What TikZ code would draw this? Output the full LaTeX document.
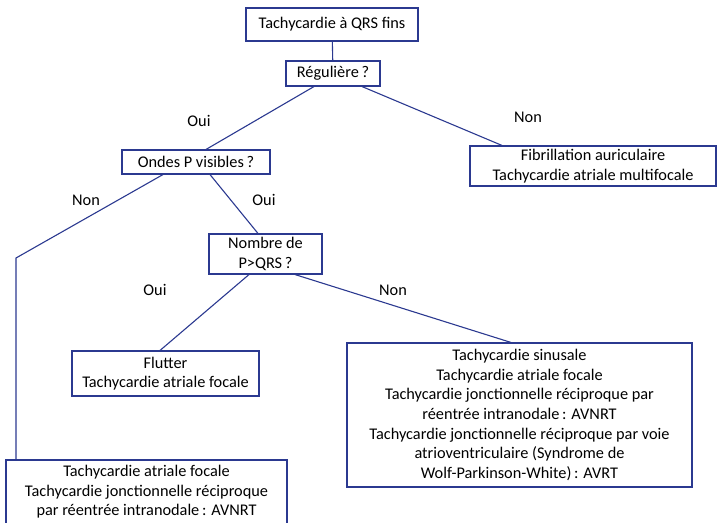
\documentclass[tikz,border=0pt]{standalone}
\usepackage{fontspec}
\setmainfont{Carlito}
\definecolor{boxblue}{HTML}{2B3990}
\begin{document}
\begin{tikzpicture}[x=1pt,y=-1pt,
    box/.style={draw=boxblue,line width=1.1pt,align=center,inner sep=1pt,
      font=\fontsize{16.3}{19.6}\selectfont},
    lbl/.style={font=\fontsize{16.3}{19.6}\selectfont}]
      \useasboundingbox (0,0) rectangle (717,522);
      \draw
        (332,24.5) node[box,minimum width=172pt,minimum height=33pt] (tqrs){Tachycardie à QRS fins}
        (333,73.5) node[box,minimum width=94pt,minimum height=25pt] (reg){Régulière\,?}
        (196,162) node[box,minimum width=148pt,minimum height=24pt] (ondes){Ondes P visibles\,?}
        (593,166) node[box,minimum width=246pt,minimum height=40pt] (fib){Fibrillation auriculaire\\Tachycardie atriale multifocale}
        (265.5,254) node[box,minimum width=113pt,minimum height=40pt] (nombre){Nombre de\\P>QRS\,?}
        (165.5,373.5) node[box,minimum width=187pt,minimum height=45pt] (flutter){Flutter\\Tachycardie atriale focale}
        (519.5,415) node[box,minimum width=345pt,minimum height=144pt] (sinus){Tachycardie sinusale\\Tachycardie atriale focale\\Tachycardie jonctionnelle réciproque par\\réentrée intranodale\,: AVNRT\\Tachycardie jonctionnelle réciproque par voie\\atrioventriculaire (Syndrome de\\Wolf-Parkinson-White)\,: AVRT}
        (146.5,492) node[box,minimum width=281pt,minimum height=64pt] (avnrt){Tachycardie atriale focale\\Tachycardie jonctionnelle réciproque\\par réentrée intranodale\,: AVNRT};
      \draw
        (199,121) node[lbl] (oui1){Oui}
        (528,117) node[lbl] (non1){Non}
        (86,200) node[lbl] (non2){Non}
        (264,200) node[lbl] (oui2){Oui}
        (155,290) node[lbl] (oui3){Oui}
        (393,290) node[lbl] (non3){Non};
      \coordinate (bend) at (16,258);
      \begin{scope}[-,draw=boxblue,line width=1.1pt]
        \draw (tqrs) to (reg);
        \draw ([xshift=-19pt]reg.south) to ([xshift=10pt]ondes.north);
        \draw ([xshift=29pt]reg.south) to ([xshift=-91pt]fib.north);
        \draw ([xshift=-33pt]ondes.south) to (bend) to ([xshift=-130.5pt]avnrt.north);
        \draw ([xshift=14pt]ondes.south) to ([xshift=-7.5pt]nombre.north);
        \draw ([xshift=-16.5pt]nombre.south) to ([xshift=-5.5pt]flutter.north);
        \draw ([xshift=29.5pt]nombre.south) to ([xshift=-8.5pt]sinus.north);
      \end{scope}
    \end{tikzpicture}
\end{document}
